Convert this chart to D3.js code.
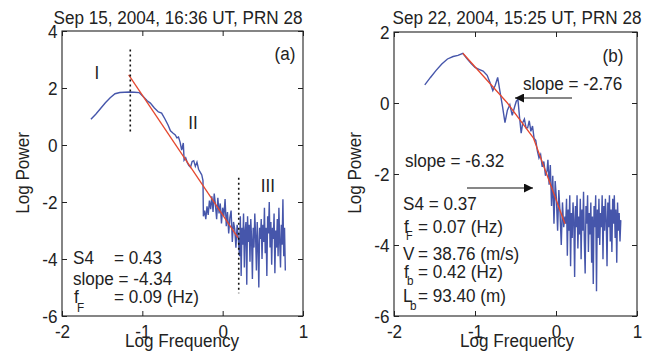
<!DOCTYPE html>
<html>
<head>
<meta charset="utf-8">
<script src="https://cdn.jsdelivr.net/npm/d3@7"></script>
<style>
  body { margin: 0; background: #fff; }
  svg { display: block; font-family: "Liberation Sans", Arial, sans-serif; }
</style>
</head>
<body>
<div id="chart"></div>
<script>
// ---- panel (a): Sep 15 spectrum ----
const aLogF = [
  -1.64,-1.58,-1.52,-1.46,-1.40,-1.34,-1.28,-1.22,-1.16,-1.10,-1.04,-0.99,-0.94,-0.90,-0.85,-0.80,-0.76,-0.72,-0.68,-0.65,
  -0.62,-0.59,-0.57,-0.55,-0.53,-0.51,-0.49,-0.48,-0.46,-0.44,-0.42,-0.40,-0.38,-0.36,-0.34,-0.32,-0.30,-0.28,-0.26,-0.245,
  -0.24,-0.225,-0.21,-0.195,-0.18,-0.165,-0.15,-0.135,-0.12,-0.105,-0.09,-0.075,-0.06,-0.045,-0.03,-0.015,0.0,0.015,0.03,0.045,
  0.06,0.075,0.09,0.105,0.12,0.135,0.15,0.165,0.18,0.195,
  0.21,0.22,0.23,0.24,0.25,0.26,0.27,0.28,0.29,0.30,0.31,0.32,0.33,0.34,0.35,0.36,0.37,0.38,0.39,0.40,
  0.41,0.42,0.43,0.44,0.45,0.46,0.47,0.48,0.49,0.50,0.51,0.52,0.53,0.54,0.55,0.56,0.57,0.58,0.59,0.60,
  0.61,0.62,0.63,0.64,0.65,0.66,0.67,0.68,0.69,0.70,0.71,0.72,0.73,0.74,0.75,0.76,0.77,0.78
];
const aLogP = [
  0.90,1.08,1.28,1.48,1.66,1.80,1.84,1.85,1.86,1.85,1.84,1.70,1.55,1.47,1.30,1.16,1.12,0.92,0.70,0.50,
  0.42,0.35,0.25,0.28,0.10,-0.18,0.07,-0.53,-0.45,-0.62,-0.72,-0.78,-0.58,-0.55,-0.75,-0.60,-0.85,-0.95,-1.05,-1.25,
  -2.50,-2.30,-2.60,-2.15,-2.45,-1.95,-2.25,-1.80,-2.35,-1.70,-2.10,-2.60,-1.85,-2.40,-2.05,-2.75,-2.20,-2.50,-1.90,-2.85,
  -2.35,-3.10,-2.55,-2.30,-3.40,-2.70,-2.95,-3.60,-2.80,-3.30,
  -3.9,-2.5,-4.6,-2.9,-3.5,-2.4,-4.3,-3.0,-2.7,-4.9,-2.5,-3.4,-2.8,-4.1,-2.6,-3.3,-4.7,-2.9,-3.6,-2.4,
  -3.2,-4.4,-2.7,-3.5,-5.0,-2.9,-3.3,-2.6,-4.0,-2.8,-3.4,-2.2,-3.8,-2.9,-4.6,-2.5,-3.1,-2.0,-3.6,-2.7,
  -4.2,-2.9,-3.3,-2.4,-4.5,-3.0,-3.6,-2.6,-3.9,-2.2,-3.4,-4.3,-2.8,-3.5,-1.9,-3.9,-2.9,-4.4
];
const aFitF = [-1.17, 0.19];
const aFitP = [2.46, -3.25];
const aDashF = [-1.15, 0.2];
const aDashTop = [3.35, -1.15];
const aDashBottom = [0.45, -5.2];

// ---- panel (b): Sep 22 spectrum ----
const bLogF = [
  -1.62,-1.55,-1.48,-1.41,-1.34,-1.27,-1.21,-1.15,-1.10,-1.05,-1.00,-0.95,-0.90,-0.85,-0.81,-0.78,-0.75,-0.72,-0.69,-0.66,
  -0.63,-0.60,-0.57,-0.54,-0.51,-0.49,-0.47,-0.45,-0.43,-0.41,-0.39,-0.37,-0.35,-0.33,-0.31,-0.29,-0.27,-0.25,-0.23,-0.21,
  -0.19,-0.17,-0.15,-0.13,-0.11,
  -0.10,-0.085,-0.07,-0.055,-0.04,-0.025,-0.01,0.005,0.02,0.035,0.05,0.065,0.08,0.095,0.11,
  0.12,0.13,0.14,0.15,0.16,0.17,0.18,0.19,0.20,0.21,0.22,0.23,0.24,0.25,0.26,0.27,0.28,0.29,0.30,0.31,
  0.32,0.33,0.34,0.35,0.36,0.37,0.38,0.39,0.40,0.41,0.42,0.43,0.44,0.45,0.46,0.47,0.48,0.49,0.50,0.51,
  0.52,0.53,0.54,0.55,0.56,0.57,0.58,0.59,0.60,0.61,0.62,0.63,0.64,0.65,0.66,0.67,0.68,0.69,0.70,0.71,
  0.72,0.73,0.74,0.75,0.76,0.77,0.78,0.79,0.80
];
const bLogP = [
  0.51,0.72,0.92,1.10,1.24,1.31,1.34,1.40,1.25,1.12,1.00,0.95,0.90,0.78,0.55,0.35,0.50,0.72,0.30,-0.10,
  -0.55,-0.20,-0.05,-0.35,-0.10,0.05,0.10,-0.40,-0.85,-0.55,-0.45,-0.70,-0.70,-0.50,-0.80,-0.65,-1.00,-1.05,-1.35,-1.55,
  -1.45,-1.80,-1.65,-2.05,-1.90,
  -1.60,-2.30,-1.75,-2.90,-2.05,-3.40,-2.20,-2.70,-3.60,-2.45,-3.10,-4.00,-2.80,-3.50,-3.20,
  -3.4,-2.7,-4.3,-3.0,-3.6,-2.6,-4.6,-3.1,-3.8,-2.8,-3.3,-4.9,-2.9,-3.5,-2.6,-4.1,-3.2,-3.7,-2.7,-4.4,
  -3.0,-3.6,-2.5,-3.9,-4.8,-2.9,-3.4,-2.6,-4.2,-3.1,-3.7,-2.8,-4.5,-3.2,-5.1,-2.9,-3.5,-2.6,-5.3,-3.0,
  -3.8,-2.7,-4.0,-3.1,-3.5,-2.6,-4.4,-2.9,-3.6,-2.7,-3.3,-4.6,-2.8,-3.5,-2.6,-3.9,-3.0,-4.2,-2.7,-3.4,
  -2.6,-3.8,-3.0,-4.5,-2.8,-3.6,-3.1,-3.9,-3.3
];
const bFitF = [-1.15, -0.60, -0.28, 0.11];
const bFitP = [1.40, 0.00, -0.98, -3.40];

const xTicks = [-2, -1, 0, 1];
const aYTicks = [4, 2, 0, -2, -4, -6];
const bYTicks = [2, 0, -2, -4, -6];

const blue = "#4656ab";
const red = "#e5482f";
const ink = "#222";
const FS = 19;

const svg = d3.select("#chart").append("svg")
    .attr("width", 650)
    .attr("height", 356);

svg.append("rect").attr("width", 650).attr("height", 356).attr("fill", "#fff");

// text with the slightly condensed look of the original
function label(x, y, str, opts = {}) {
    return svg.append("text")
        .attr("transform", `translate(${x},${y}) rotate(${opts.rotate || 0}) scale(0.9,1)`)
        .attr("text-anchor", opts.anchor || "start")
        .attr("font-size", opts.size || FS)
        .attr("fill", ink)
        .text(str);
}

function panel(xDom, yDom, left, right, top, bottom, yTicks) {
    const x = d3.scaleLinear().domain(xDom).range([left, right]);
    const y = d3.scaleLinear().domain(yDom).range([bottom, top]);
    const fmt = d => String(d);

    svg.append("rect")
        .attr("x", left).attr("y", top)
        .attr("width", right - left).attr("height", bottom - top)
        .attr("fill", "none").attr("stroke", ink).attr("stroke-width", 1.1);

    const styleAxis = g => {
        g.select(".domain").remove();
        g.selectAll("line").attr("stroke", ink);
        g.attr("font-size", FS).attr("font-family", null);
        g.selectAll("text").attr("fill", ink).attr("transform", "scale(0.9,1)");
    };

    svg.append("g").attr("transform", `translate(0,${bottom})`)
        .call(d3.axisBottom(x).tickValues(xTicks).tickFormat(fmt).tickSizeInner(-5).tickSizeOuter(0).tickPadding(9))
        .call(styleAxis);
    svg.append("g").attr("transform", `translate(0,${top})`)
        .call(d3.axisTop(x).tickValues(xTicks).tickFormat("").tickSizeInner(-5).tickSizeOuter(0))
        .call(styleAxis);
    svg.append("g").attr("transform", `translate(${left},0)`)
        .call(d3.axisLeft(y).tickValues(yTicks).tickFormat(fmt).tickSizeInner(-5).tickSizeOuter(0).tickPadding(5))
        .call(styleAxis);
    svg.append("g").attr("transform", `translate(${right},0)`)
        .call(d3.axisRight(y).tickValues(yTicks).tickFormat("").tickSizeInner(-5).tickSizeOuter(0))
        .call(styleAxis);

    return { x, y };
}

const line = (x, y) => d3.line().x(d => x(d[0])).y(d => y(d[1]));

// ---------- panel (a) ----------
const A = panel([-2, 1], [-6, 4], 62, 303, 31, 316, aYTicks);

svg.append("path")
    .datum(d3.zip(aLogF, aLogP))
    .attr("fill", "none").attr("stroke", blue).attr("stroke-width", 1.4)
    .attr("d", line(A.x, A.y));

svg.append("path")
    .datum(d3.zip(aFitF, aFitP))
    .attr("fill", "none").attr("stroke", red).attr("stroke-width", 1.3)
    .attr("d", line(A.x, A.y));

aDashF.forEach((f, i) => {
    svg.append("line")
        .attr("x1", A.x(f)).attr("x2", A.x(f))
        .attr("y1", A.y(aDashTop[i])).attr("y2", A.y(aDashBottom[i]))
        .attr("stroke", "#111").attr("stroke-width", 1.6)
        .attr("stroke-dasharray", "2,3");
});

label(178, 24, "Sep 15, 2004, 16:36 UT, PRN 28", { anchor: "middle" });
label(182, 347, "Log Frequency", { anchor: "middle" });
label(29, 173, "Log Power", { anchor: "middle", rotate: -90 });
label(285, 60, "(a)", { anchor: "middle" });
label(97, 79, "I", { anchor: "middle" });
label(193, 129, "II", { anchor: "middle" });
label(268, 192, "III", { anchor: "middle" });

label(73, 264, "S4");
label(114, 264, "= 0.43");
label(73, 285, "slope = -4.34");
label(74, 303, "f");
label(77, 312, "F", { size: 13 });
label(114, 303, "= 0.09 (Hz)");

// ---------- panel (b) ----------
const B = panel([-2, 1], [-6, 2], 394, 637, 32, 316, bYTicks);

svg.append("path")
    .datum(d3.zip(bLogF, bLogP))
    .attr("fill", "none").attr("stroke", blue).attr("stroke-width", 1.4)
    .attr("d", line(B.x, B.y));

svg.append("path")
    .datum(d3.zip(bFitF, bFitP))
    .attr("fill", "none").attr("stroke", red).attr("stroke-width", 1.3)
    .attr("d", line(B.x, B.y));

label(517, 24, "Sep 22, 2004, 15:25 UT, PRN 28", { anchor: "middle" });
label(517, 347, "Log Frequency", { anchor: "middle" });
label(361, 173, "Log Power", { anchor: "middle", rotate: -90 });
label(613, 62, "(b)", { anchor: "middle" });

// slope arrows
svg.append("defs").append("marker")
    .attr("id", "head")
    .attr("viewBox", "0 0 10 10")
    .attr("refX", 10).attr("refY", 5)
    .attr("markerWidth", 13).attr("markerHeight", 9)
    .attr("markerUnits", "userSpaceOnUse")
    .attr("orient", "auto")
    .append("path").attr("d", "M0,0L10,5L0,10z").attr("fill", "#111");

svg.append("line")
    .attr("x1", 572).attr("y1", 98).attr("x2", 515).attr("y2", 98)
    .attr("stroke", "#111").attr("stroke-width", 1.2).attr("marker-end", "url(#head)");
svg.append("line")
    .attr("x1", 467).attr("y1", 188).attr("x2", 533).attr("y2", 188)
    .attr("stroke", "#111").attr("stroke-width", 1.2).attr("marker-end", "url(#head)");

label(523, 90, "slope = -2.76");
label(405, 167, "slope = -6.32");

label(403, 210, "S4 = 0.37");
label(404, 233, "f");
label(406, 240, "F", { size: 12 });
label(418, 233, "= 0.07 (Hz)");
label(403, 260, "V");
label(418, 260, "= 38.76 (m/s)");
label(404, 278, "f");
label(407, 285, "b", { size: 13 });
label(418, 278, "= 0.42 (Hz)");
label(403, 302, "L");
label(410, 310, "b", { size: 13 });
label(418, 302, "= 93.40 (m)");
</script>
</body>
</html>
